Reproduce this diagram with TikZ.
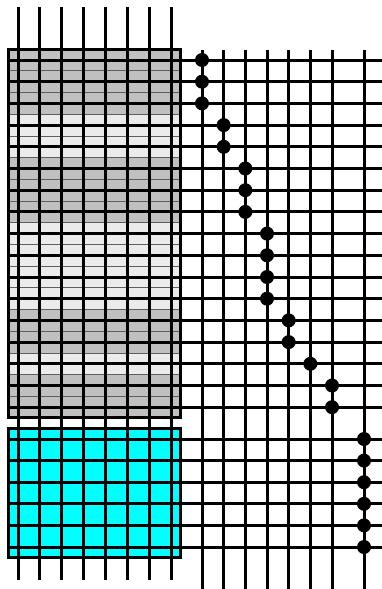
\documentclass[tikz,border=0pt]{standalone}
\begin{document}
\begin{tikzpicture}[x=1pt,y=-1pt,
  wire/.style={line width=3pt,black},
  boxedge/.style={line width=3pt,black},
  rowcell/.style={draw={rgb,255:red,95;green,95;blue,95},line width=0.9pt},
  dot/.style={circle,fill=black,inner sep=0pt,minimum size=14pt}]
\definecolor{darkband}{RGB}{192,192,192}
\definecolor{lightband}{RGB}{235,235,235}
\definecolor{cyanfill}{RGB}{0,255,255}
\useasboundingbox[fill=white] (0,0) rectangle (382,589);
% row bands of the grey block
\foreach \i/\c in {0/darkband,1/darkband,2/darkband,3/lightband,4/lightband,
  5/darkband,6/darkband,7/darkband,8/lightband,9/lightband,10/lightband,11/lightband,
  12/darkband,13/darkband,14/lightband,15/darkband,16/darkband}{
  \pgfmathsetmacro{\yc}{60+21.7*\i}
  \path[rowcell,fill=\c] (8,\yc-10.85) rectangle (180,\yc+10.85);
}
\draw[boxedge] (8,49.15) rectangle (180,417.85);
% cyan block
\draw[boxedge,fill=cyanfill] (8,428.2) rectangle (180,557.8);
% horizontal wires
\foreach \i in {0,...,16}{
  \pgfmathsetmacro{\yc}{60+21.7*\i}
  \draw[wire] (8,\yc) -- (382,\yc);
}
\foreach \j in {0,...,5}{
  \pgfmathsetmacro{\yc}{439+21.6*\j}
  \draw[wire] (8,\yc) -- (382,\yc);
}
% left vertical wires
\foreach \k in {0,...,7}{
  \pgfmathsetmacro{\xc}{18+21.86*\k}
  \draw[wire] (\xc,7) -- (\xc,580);
}
% right vertical wires
\foreach \k in {0,...,6}{
  \pgfmathsetmacro{\xc}{202+21.67*\k}
  \draw[wire] (\xc,50) -- (\xc,589);
}
\draw[wire] (364,50) -- (364,589);
% dots
\foreach \i/\k in {0/0,1/0,2/0,3/1,4/1,5/2,6/2,7/2,8/3,9/3,10/3,11/3,12/4,13/4,14/5,15/6,16/6}{
  \pgfmathsetmacro{\yc}{60+21.7*\i}
  \pgfmathsetmacro{\xc}{202+21.67*\k}
  \node[dot] (d\i) at (\xc,\yc) {};
}
\foreach \j in {0,...,5}{
  \pgfmathsetmacro{\yc}{439+21.6*\j}
  \node[dot] (c\j) at (364,\yc) {};
}
\end{tikzpicture}
\end{document}
